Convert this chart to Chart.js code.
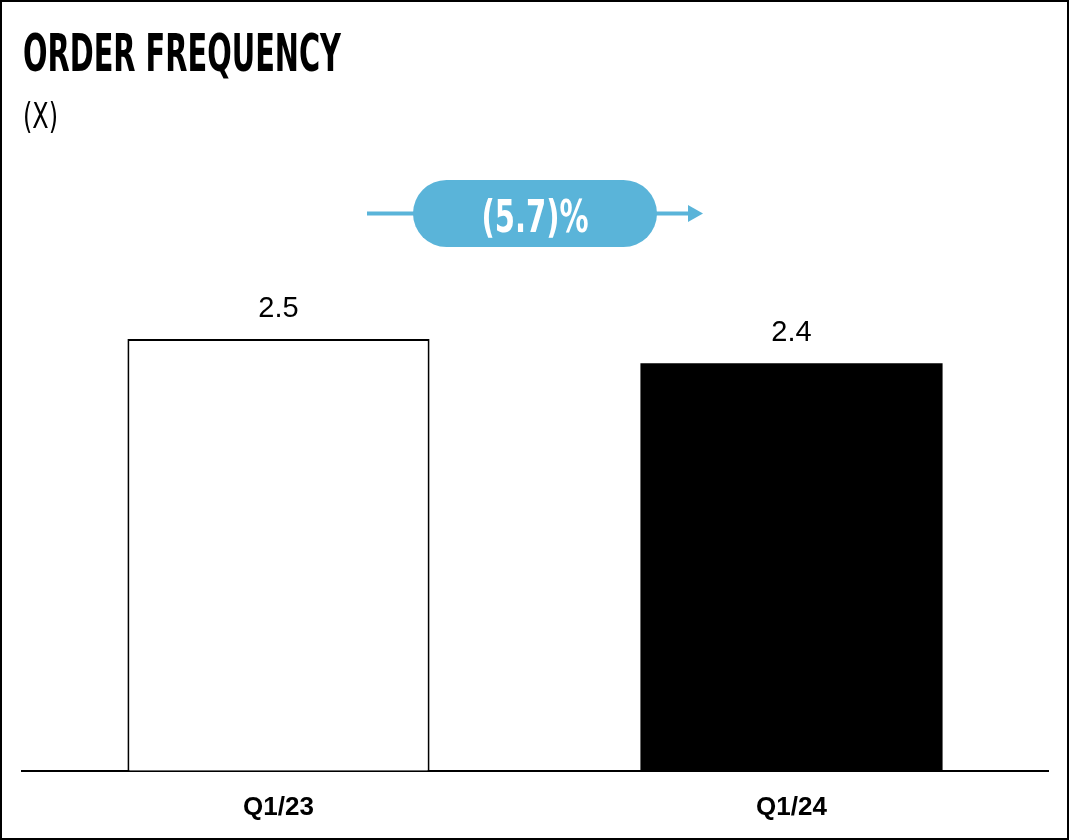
<!DOCTYPE html>
<html>
<head>
<meta charset="utf-8">
<script src="https://cdn.jsdelivr.net/npm/chart.js@4.4.1/dist/chart.umd.min.js"></script>
<style>
  html, body { margin: 0; padding: 0; background: #fff; }
  #wrap { position: relative; width: 1069px; height: 840px; }
</style>
</head>
<body>
<div id="wrap"><canvas id="c" width="1069" height="840"></canvas></div>
<script>
// ---- data ----
const categories = ['Q1/23', 'Q1/24'];
const values = [2.5, 2.36];
const barFills = ['#ffffff', '#000000'];
const titleText = 'ORDER FREQUENCY';
const unitText = '(X)';
const changeText = '(5.7)%';

const CONDENSED = '"Liberation Sans Narrow", "DejaVu Sans Condensed", "Roboto Condensed", sans-serif';

function fitText(ctx, text, x, y, width, font, color, align) {
  ctx.save();
  ctx.font = font;
  ctx.fillStyle = color;
  ctx.textBaseline = 'alphabetic';
  ctx.textAlign = 'left';
  const w = ctx.measureText(text).width;
  const s = width / w;
  let left = x;
  if (align === 'center') left = x - width / 2;
  ctx.translate(left, y);
  ctx.scale(s, 1);
  ctx.fillText(text, 0, 0);
  ctx.restore();
}

const decor = {
  id: 'decor',
  afterDraw(chart) {
    const ctx = chart.ctx;
    // outer frame
    ctx.save();
    ctx.strokeStyle = '#000';
    ctx.lineWidth = 2;
    ctx.strokeRect(1, 1, 1067, 838);
    ctx.restore();

    // title + unit
    fitText(ctx, titleText, 23, 71, 318, 'bold 52px ' + CONDENSED, '#000');
    fitText(ctx, unitText, 23, 128, 35, '36px ' + CONDENSED, '#000');

    // value labels
    const meta = chart.getDatasetMeta(0);
    ctx.save();
    ctx.font = '29px "Liberation Sans", Arial, sans-serif';
    ctx.fillStyle = '#000';
    ctx.textAlign = 'center';
    ctx.textBaseline = 'middle';
    meta.data.forEach((bar, i) => {
      ctx.fillText(values[i].toFixed(1), bar.x, bar.y - 30);
    });
    ctx.restore();

    // change badge between the two bars
    const xs = chart.scales.x;
    const cx = (xs.getPixelForValue(0) + xs.getPixelForValue(1)) / 2;
    const cy = 213.5;
    const pw = 244, ph = 67, r = ph / 2;
    const blue = '#5ab4d9';
    ctx.save();
    ctx.strokeStyle = blue;
    ctx.fillStyle = blue;
    ctx.lineWidth = 4;
    ctx.beginPath();
    ctx.moveTo(cx - 168, cy);
    ctx.lineTo(cx + 156, cy);
    ctx.stroke();
    ctx.beginPath();
    ctx.moveTo(cx + 153, cy - 8.5);
    ctx.lineTo(cx + 168, cy);
    ctx.lineTo(cx + 153, cy + 8.5);
    ctx.closePath();
    ctx.fill();
    ctx.beginPath();
    ctx.roundRect(cx - pw / 2, cy - ph / 2, pw, ph, r);
    ctx.fill();
    ctx.restore();
    fitText(ctx, changeText, cx, 232, 107, 'bold 44px ' + CONDENSED, '#fff', 'center');
  }
};

new Chart(document.getElementById('c'), {
  type: 'bar',
  data: {
    labels: categories,
    datasets: [{
      data: values,
      backgroundColor: barFills,
      borderColor: ['#000', '#000'],
      borderWidth: [2, 0],
      borderSkipped: 'bottom',
      barPercentage: 0.589,
      categoryPercentage: 1
    }]
  },
  options: {
    responsive: false,
    animation: false,
    layout: { padding: { left: 22, right: 21, top: 280, bottom: 4 } },
    plugins: { legend: { display: false }, tooltip: { enabled: false }, title: { display: false } },
    scales: {
      x: {
        grid: { display: false },
        border: { display: true, color: '#000', width: 2 },
        ticks: {
          color: '#000',
          padding: 13,
          font: { family: '"Liberation Sans", Arial, sans-serif', weight: 'bold', size: 26 }
        }
      },
      y: {
        display: false,
        min: 0,
        max: 2.842
      }
    }
  },
  plugins: [decor]
});
</script>
</body>
</html>
